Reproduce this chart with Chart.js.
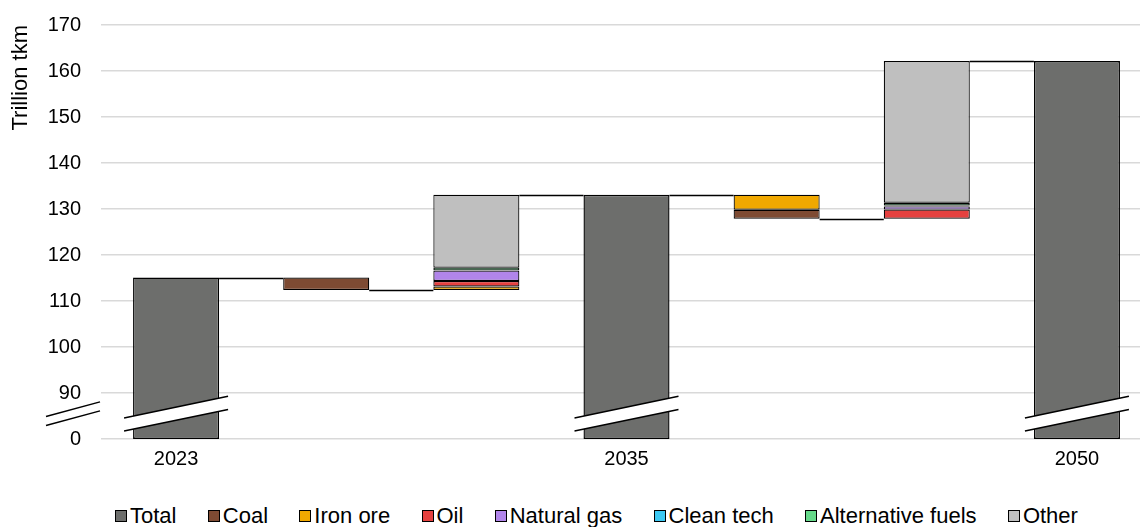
<!DOCTYPE html>
<html>
<head>
<meta charset="utf-8">
<script src="https://cdn.jsdelivr.net/npm/chart.js@4.4.2/dist/chart.umd.min.js"></script>
<style>
  html, body { margin: 0; padding: 0; background: #fff; overflow: hidden; }
  #wrap { position: relative; width: 1152px; height: 489px; }
  #legend {
    position: absolute; left: 115px; top: 503px; width: 963px;
    display: flex; justify-content: space-between; align-items: center;
    font-family: 'Liberation Sans', Arial, sans-serif; font-size: 22px; color: #000;
  }
  #legend span.item { display: flex; align-items: center; white-space: nowrap; }
  #legend span.box {
    display: inline-block; width: 10px; height: 10px; margin-right: 3px;
    border: 1px solid #000;
  }
</style>
</head>
<body>
<div id="wrap"><canvas id="chart"></canvas></div>
<div id="legend"></div>
<script>
// Categories along the x axis (only the milestone years are labelled)
const categories = ["2023", "", "", "2035", "", "", "2050"];

// Totals (trillion tkm)
const total = [115.1, null, null, 133.1, null, null, 162.15];

// Changes between milestones, by commodity
const coal = [null, -2.7, null, null, -1.96, null, null];
const ironOre = [null, null, 0.75, null, -3.27, null, null];
const oil = [null, null, 1.2, null, null, 2.0, null];
const naturalGas = [null, null, 2.25, null, null, 0.7, null];
const cleanTech = [null, null, 0.05, null, null, 0.2, null];
const altFuels = [null, null, 0.6, null, null, 0.6, null];
const other = [null, null, 15.85, null, null, 30.78, null];

// Broken y axis: the bottom tick stands for 0
const axisFloor = 80;
const axisTop = 170;
const breakAt = 85.5;

const totalColor = "#6d6e6c";
const changeSeries = [
    { label: "Coal", values: coal, color: "#7e4b33" },
    { label: "Iron ore", values: ironOre, color: "#f0a800" },
    { label: "Oil", values: oil, color: "#e5413f" },
    { label: "Natural gas", values: naturalGas, color: "#b185ea" },
    { label: "Clean tech", values: cleanTech, color: "#3cc8f2" },
    { label: "Alternative fuels", values: altFuels, color: "#66d98a" },
    { label: "Other", values: other, color: "#bfbfbf" }
];

// Work out floating ranges for the waterfall and the running level after each column
const level = [];
const ranges = changeSeries.map(() => categories.map(() => null));
let run = 0;
categories.forEach((c, i) => {
    if (total[i] != null) {
        run = total[i];
        level[i] = run;
        return;
    }
    const net = changeSeries.reduce((s, ser) => s + (ser.values[i] || 0), 0);
    let base = Math.min(run, run + net);
    changeSeries.forEach((ser, k) => {
        const v = ser.values[i];
        if (v == null) return;
        ranges[k][i] = [base, base + Math.abs(v)];
        base += Math.abs(v);
    });
    run += net;
    level[i] = run;
});

const datasets = [{
    label: "Total",
    data: total.map(v => v == null ? null : [axisFloor, v]),
    backgroundColor: totalColor,
    borderColor: "#000",
    borderWidth: 1.4,
    borderSkipped: false
}].concat(changeSeries.map((ser, k) => ({
    label: ser.label,
    data: ranges[k],
    backgroundColor: ser.color,
    borderColor: "#000",
    borderWidth: 1.2,
    borderSkipped: false
})));

// Connector lines between columns
const connectors = {
    id: "connectors",
    afterDatasetsDraw(chart) {
        const { ctx, scales: { x, y } } = chart;
        const half = chart.getDatasetMeta(0).data[0].width / 2;
        ctx.save();
        ctx.strokeStyle = "#000";
        ctx.lineWidth = 1.4;
        for (let i = 0; i < categories.length - 1; i++) {
            const yy = Math.round(y.getPixelForValue(level[i])) + 0.5;
            ctx.beginPath();
            ctx.moveTo(x.getPixelForValue(i) + half, yy);
            ctx.lineTo(x.getPixelForValue(i + 1) - half, yy);
            ctx.stroke();
        }
        ctx.restore();
    }
};

// Break marks on the total bars and the y axis
const breaks = {
    id: "breaks",
    afterDatasetsDraw(chart) {
        const { ctx, chartArea, scales: { x, y } } = chart;
        const yb = y.getPixelForValue(breakAt);
        ctx.save();
        ctx.strokeStyle = "#000";
        ctx.lineWidth = 1.5;
        total.forEach((v, i) => {
            if (v == null) return;
            const c = x.getPixelForValue(i);
            const len = 52, dy = 10.8, gap = 6.6;
            ctx.fillStyle = "#fff";
            ctx.beginPath();
            ctx.moveTo(c - len, yb - gap + dy);
            ctx.lineTo(c + len, yb - gap - dy);
            ctx.lineTo(c + len, yb + gap - dy);
            ctx.lineTo(c - len, yb + gap + dy);
            ctx.closePath();
            ctx.fill();
            [-gap, gap].forEach(g => {
                ctx.beginPath();
                ctx.moveTo(c - len, yb + g + dy);
                ctx.lineTo(c + len, yb + g - dy);
                ctx.stroke();
            });
        });
        const ax = chartArea.left - 28;
        [-4.5, 4.5].forEach(g => {
            ctx.beginPath();
            ctx.moveTo(ax - 27, yb + g + 7.3);
            ctx.lineTo(ax + 27, yb + g - 7.3);
            ctx.stroke();
        });
        ctx.restore();
    }
};

Chart.defaults.font.family = "'Liberation Sans', Arial, sans-serif";
Chart.defaults.color = "#000";

new Chart(document.getElementById("chart"), {
    type: "bar",
    data: { labels: categories, datasets: datasets },
    options: {
        responsive: true,
        maintainAspectRatio: false,
        animation: false,
        layout: { padding: { top: 25, left: 0, right: 0, bottom: 10 } },
        datasets: {
            bar: { grouped: false, categoryPercentage: 1, barPercentage: 0.573 }
        },
        scales: {
            x: {
                grid: { display: false, drawTicks: false },
                border: { display: false },
                ticks: { font: { size: 20 }, padding: 8, autoSkip: false, maxRotation: 0 }
            },
            y: {
                min: axisFloor,
                max: axisTop,
                afterFit: scale => { scale.width = 101; },
                grid: {
                    color: "#d9d9d9", lineWidth: 1.5,
                    drawTicks: true, tickLength: 20, tickColor: "rgba(0,0,0,0)"
                },
                border: { display: false },
                ticks: {
                    stepSize: 10,
                    padding: 0,
                    font: { size: 20 },
                    callback: v => v === axisFloor ? "0" : v
                },
                title: {
                    display: true,
                    text: "Trillion tkm",
                    align: "end",
                    font: { size: 22 },
                    padding: { top: 8, bottom: 0 }
                }
            }
        },
        plugins: {
            legend: { display: false },
            tooltip: { enabled: false }
        }
    },
    plugins: [connectors, breaks]
});

// Legend row under the chart
const legendEl = document.getElementById("legend");
[{ label: "Total", color: totalColor }].concat(changeSeries).forEach(s => {
    const item = document.createElement("span");
    item.className = "item";
    const box = document.createElement("span");
    box.className = "box";
    box.style.background = s.color;
    item.appendChild(box);
    item.appendChild(document.createTextNode(s.label));
    legendEl.appendChild(item);
});
</script>
</body>
</html>
